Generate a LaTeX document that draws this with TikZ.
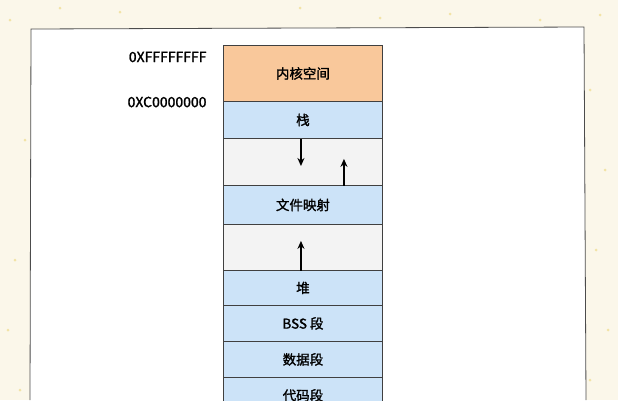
\documentclass[tikz,border=0pt]{standalone}
\usepackage{fontspec}
\setmainfont[AutoFakeBold=1.5]{Noto Sans CJK SC}
\usetikzlibrary{arrows.meta}
\definecolor{bgc}{HTML}{FBF7EA}
\definecolor{orangec}{HTML}{F9C89B}
\definecolor{bluec}{HTML}{CCE3F8}
\definecolor{grayc}{HTML}{F3F3F3}
\definecolor{dotc}{HTML}{F2E3A6}
\tikzset{
  seg/.style={draw=black!75, line width=0.9pt, minimum width=159pt, anchor=north west, inner sep=0pt, font=\bfseries\fontsize{13.5}{15}\selectfont},
  addr/.style={font=\bfseries\fontsize{14}{16}\selectfont, anchor=east},
  growarrow/.style={-{Stealth[length=8pt,width=7pt]}, line width=1.4pt}
}
\begin{document}
\begin{tikzpicture}[x=1pt,y=-1pt]
\useasboundingbox (0,0) rectangle (618,400);
\fill[bgc] (0,0) rectangle (618,400);
\foreach \x/\y in {10/20,25/140,15/260,8/330,20/390,600/15,590/90,605/170,596/250,608/330,590/380,120/12,300/8,450/14,540/20,60/8,380/18}
  \fill[dotc] (\x,\y) circle (1.5);
\fill[white] (31,29) -- (584,27) -- (586,400) -- (30,400) -- cycle;
\draw[black!70, line width=0.8pt] (30,400) -- (31,29) -- (584,27) -- (586,400);
\node[seg, fill=orangec, minimum height=56pt] (k) at (223,45) {内核空间};
\node[seg, fill=bluec, minimum height=37pt] (s) at (223,101) {栈};
\node[seg, fill=grayc, minimum height=47pt] (g1) at (223,138) {};
\node[seg, fill=bluec, minimum height=39pt] (m) at (223,185) {文件映射};
\node[seg, fill=grayc, minimum height=46pt] (g2) at (223,224) {};
\node[seg, fill=bluec, minimum height=35pt] (h) at (223,270) {堆};
\node[seg, fill=bluec, minimum height=36pt] (b) at (223,305) {BSS 段};
\node[seg, fill=bluec, minimum height=36pt] (d) at (223,341) {数据段};
\node[seg, fill=bluec, minimum height=36pt] (c) at (223,377) {代码段};
\draw[growarrow] ([xshift=-2pt,yshift=-1pt]g1.north) -- ([xshift=-2pt,yshift=-28pt]g1.north);
\draw[growarrow] ([xshift=41pt,yshift=0pt]g1.south) -- ([xshift=41pt,yshift=27pt]g1.south);
\draw[growarrow] ([xshift=-2pt,yshift=0pt]g2.south) -- ([xshift=-2pt,yshift=30pt]g2.south);
\node[addr] (a1) at (210,57) {0XFFFFFFFF};
\node[addr] (a2) at (210,102) {0XC0000000};
\end{tikzpicture}
\end{document}
